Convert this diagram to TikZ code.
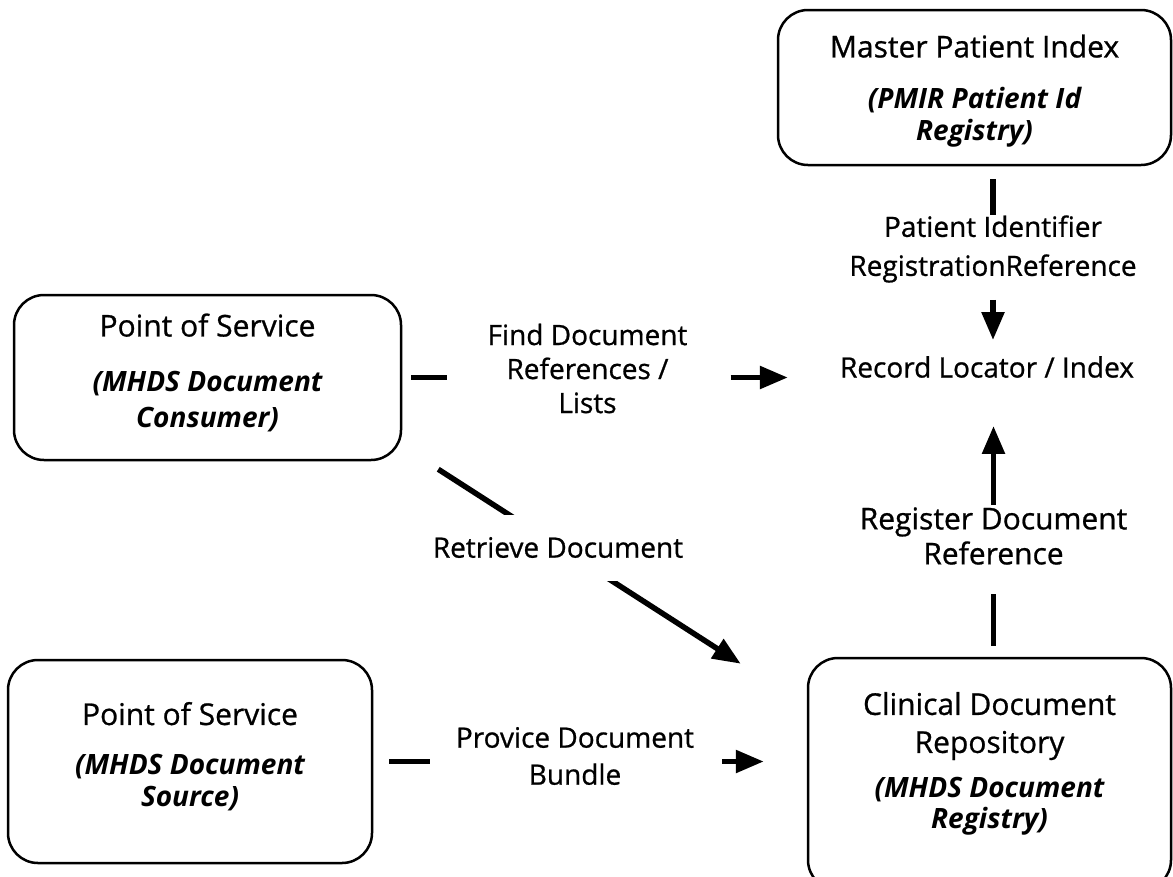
\documentclass[tikz,border=0pt]{standalone}
\usepackage{fontspec}
\setmainfont{Open Sans}[UprightFeatures={FakeBold=0.8}]
\usetikzlibrary{arrows.meta,calc}
\newcommand\titlesize{\fontsize{30pt}{30pt}\selectfont}
\newcommand\subtitlefont{\bfseries\itshape\fontsize{28pt}{28pt}\selectfont}
\newcommand\labelsize{\fontsize{28pt}{34pt}\selectfont}
\newcommand\biglabelsize{\fontsize{30pt}{35pt}\selectfont}

\begin{document}
\begin{tikzpicture}[x=1pt,y=-1pt,
  box/.style={draw=black, line width=2.5pt, rounded corners=30pt, align=center,
              inner sep=0pt, font=\titlesize},
  flow/.style={align=center, inner sep=0pt, font=\labelsize},
  conn/.style={line width=5.5pt},
  arr/.style={conn, -{Triangle[length=28pt,width=22pt]}},
]
\useasboundingbox (0,0) rectangle (1173,876);
\clip (0,0) rectangle (1173,876);

% actors
\node[box, minimum width=393pt, minimum height=155pt, text depth=0pt] (mpi) at (974.5,87.5)
  {Master Patient Index\\[21pt]\subtitlefont (PMIR Patient Id\\[2pt]\subtitlefont Registry)};
\node[box, minimum width=387pt, minimum height=165pt, text depth=14pt] (cons) at (207.5,377.5)
  {Point of Service\\[25pt]\subtitlefont (MHDS Document\\[6pt]\subtitlefont Consumer)};
\node[box, minimum width=364pt, minimum height=203pt, text depth=14pt] (src) at (190,761.5)
  {Point of Service\\[20pt]\subtitlefont (MHDS Document\\[2pt]\subtitlefont Source)};
\node[box, minimum width=363pt, minimum height=232pt, text depth=27pt] (cdr) at (989.5,774)
  {Clinical Document\\[8pt]Repository\\[15pt]\subtitlefont (MHDS Document\\[1pt]\subtitlefont Registry)};

% transaction labels and the record locator
\node[flow] (find) at (587.5,368.5) {Find Document\\References /\\Lists};
\node[flow] (pid) at (993,249) {Patient Identifier\\[5pt]RegistrationReference};
\node[flow] (rl) at (987,367) {Record Locator / Index};
\node[flow, font=\biglabelsize] (reg) at (993.5,536) {Register Document\\Reference};
\node[flow] (prov) at (575,756) {Provice Document\\[3pt]Bundle};

% connectors
\draw[conn, shorten <=9pt, shorten >=40pt] (cons.east) -- (cons.east -| find.west);
\draw[arr, shorten <=43pt, shorten >=52pt] (cons.east -| find.east) -- (cons.east -| rl.west);
\draw[conn, shorten <=13pt] (mpi.south -| pid.north) -- (pid.north);
\draw[arr, shorten <=17pt, shorten >=16pt] (pid.south) -- (pid.south |- rl.north);
\draw[conn, shorten <=11pt, shorten >=29pt] (cdr.north -| reg.south) -- (reg.south);
\draw[arr, shorten <=2pt, shorten >=48pt] (reg.north) -- (reg.north |- rl.south);
\draw[arr] ($(cons.south east)+(36,8)$) -- ($(cdr.north west)+(-66,7)$);
\node[flow, fill=white, minimum height=66pt] (retr) at (558,547.5) {Retrieve Document};
\draw[conn, shorten <=16pt, shorten >=26pt] (src.east) -- (src.east -| prov.west);
\draw[arr, shorten <=28pt, shorten >=43pt] (src.east -| prov.east) -- (src.east -| cdr.west);
\end{tikzpicture}
\end{document}
